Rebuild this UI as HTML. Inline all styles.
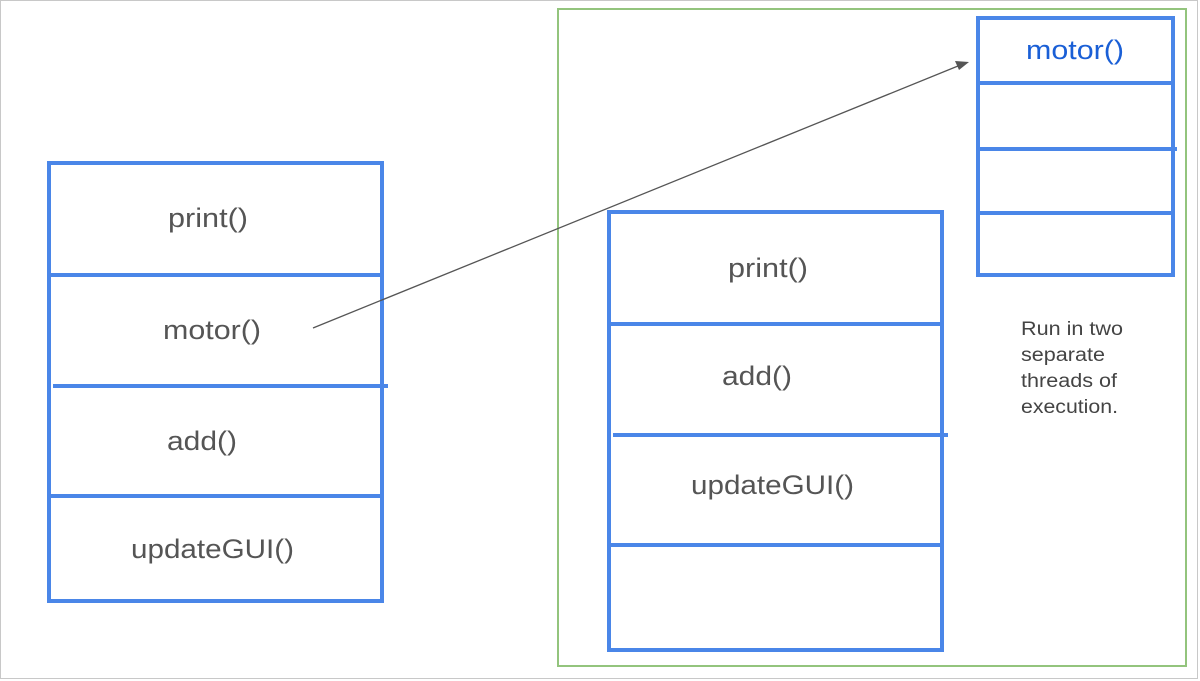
<!DOCTYPE html>
<html><head><style>html,body{margin:0;padding:0;background:#fff}svg{display:block}</style></head>
<body>
<svg width="1200" height="681" viewBox="0 0 1200 681" xmlns="http://www.w3.org/2000/svg" font-family="Liberation Sans, sans-serif">
<rect x="0.5" y="0.5" width="1197" height="678" fill="#fff" stroke="#c8c8c8" stroke-width="1"/>
<rect x="558" y="9" width="628" height="657" fill="none" stroke="#93c47d" stroke-width="2"/>
<g stroke="#4a86e8" stroke-width="4" fill="none">
<rect x="49" y="163" width="333" height="438"/>
<line x1="49" y1="275" x2="382" y2="275"/>
<line x1="53" y1="386" x2="388" y2="386"/>
<line x1="49" y1="496" x2="382" y2="496"/>
<rect x="609" y="212" width="333" height="438"/>
<line x1="609" y1="324" x2="942" y2="324"/>
<line x1="613" y1="435" x2="948" y2="435"/>
<line x1="609" y1="545" x2="942" y2="545"/>
<rect x="978" y="18" width="195" height="257"/>
<line x1="978" y1="83" x2="1173" y2="83"/>
<line x1="978" y1="149" x2="1177" y2="149"/>
<line x1="978" y1="213" x2="1173" y2="213"/>
</g>
<g fill="#555" font-size="27">
<text x="168" y="227" textLength="80" lengthAdjust="spacingAndGlyphs">print()</text>
<text x="163" y="339" textLength="98" lengthAdjust="spacingAndGlyphs">motor()</text>
<text x="167" y="450" textLength="70" lengthAdjust="spacingAndGlyphs">add()</text>
<text x="131" y="558" textLength="163" lengthAdjust="spacingAndGlyphs">updateGUI()</text>
<text x="728" y="277" textLength="80" lengthAdjust="spacingAndGlyphs">print()</text>
<text x="722" y="385" textLength="70" lengthAdjust="spacingAndGlyphs">add()</text>
<text x="691" y="494" textLength="163" lengthAdjust="spacingAndGlyphs">updateGUI()</text>
</g>
<text x="1026" y="59" fill="#1a5fd6" font-size="27" textLength="98" lengthAdjust="spacingAndGlyphs">motor()</text>
<line x1="313" y1="328" x2="958" y2="66" stroke="#555" stroke-width="1.3"/>
<polygon points="969,62 955,61 959,70" fill="#555"/>
<g fill="#444" font-size="19">
<text x="1021" y="335" textLength="102" lengthAdjust="spacingAndGlyphs">Run in two</text>
<text x="1021" y="361" textLength="84" lengthAdjust="spacingAndGlyphs">separate</text>
<text x="1021" y="387" textLength="96" lengthAdjust="spacingAndGlyphs">threads of</text>
<text x="1021" y="413" textLength="97" lengthAdjust="spacingAndGlyphs">execution.</text>
</g>
</svg>
</body></html>
